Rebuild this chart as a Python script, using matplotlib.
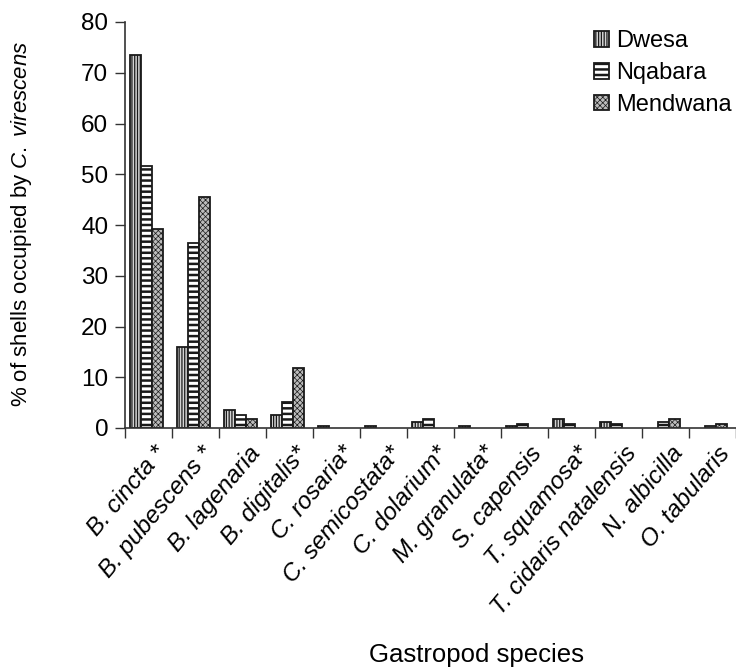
import matplotlib
matplotlib.use("Agg")
import matplotlib.pyplot as plt
import numpy as np
from matplotlib.patches import Patch

plt.rcParams['font.family'] = ['Liberation Sans', 'DejaVu Sans']
plt.rcParams['mathtext.fontset'] = 'custom'
plt.rcParams['mathtext.rm'] = 'Liberation Sans'
plt.rcParams['mathtext.it'] = 'Liberation Sans:italic'

species = ["B. cincta *", "B. pubescens *", "B. lagenaria", "B. digitalis*",
           "C. rosaria*", "C. semicostata*", "C. dolarium*", "M. granulata*",
           "S. capensis", "T. squamosa*", "T. cidaris natalensis", "N. albicilla",
           "O. tabularis"]
dwesa = [73.5, 15.9, 3.5, 2.6, 0.4, 0.4, 1.1, 0.4, 0.4, 1.8, 1.2, 0.0, 0.0]
nqabara = [51.7, 36.4, 2.6, 5.2, 0.0, 0.0, 1.8, 0.0, 0.8, 0.8, 0.8, 1.2, 0.4]
mendwana = [39.2, 45.6, 1.8, 11.8, 0.0, 0.0, 0.0, 0.0, 0.0, 0.0, 0.0, 1.8, 0.8]
series_names = ["Dwesa", "Nqabara", "Mendwana"]
yticks = [0, 10, 20, 30, 40, 50, 60, 70, 80]


def with_hatch_lw(artist, lw):
    orig = artist.draw

    def draw(renderer, _orig=orig, _lw=lw):
        with plt.rc_context({'hatch.linewidth': _lw}):
            if hasattr(artist, 'set_hatch_linewidth'):
                artist.set_hatch_linewidth(_lw)
            _orig(renderer)
    artist.draw = draw


fig = plt.figure(figsize=(7.36, 6.68), dpi=100)
ax = fig.add_axes([125/736, (668-428)/668, 1 - 125/736, (428-22)/668])

x = np.arange(len(species))
w = 0.235
c = -0.04
styles = [
    dict(facecolor='#d4d4d4', hatch='||||||', hlw=0.9),
    dict(facecolor='white', hatch='---', hlw=1.8),
    dict(facecolor='#bcbcbc', hatch='xxxxxx', hlw=0.5),
]
handles = []
for k, (vals, st) in enumerate(zip([dwesa, nqabara, mendwana], styles)):
    bars = ax.bar(x + c + (k - 1) * w, vals, width=w, facecolor=st['facecolor'],
                  edgecolor='#1a1a1a', linewidth=1.3, hatch=st['hatch'], zorder=2)
    for b in bars:
        with_hatch_lw(b, st['hlw'])
        if b.get_height() <= 0:
            b.set_visible(False)
    h = Patch(facecolor=st['facecolor'], edgecolor='#1a1a1a', linewidth=1.3,
              hatch=st['hatch'], label=series_names[k])
    handles.append(h)

ax.set_xlim(-0.5, len(species) - 0.5)
ax.set_ylim(0, 80)
ax.set_yticks(yticks)
ax.set_yticklabels([str(t) for t in yticks], fontsize=17.5)
ax.set_xticks(np.arange(len(species) + 1) - 0.5)
ax.set_xticklabels([])
ax.tick_params(axis='both', direction='out', length=7, width=1, color='#333333')
ax.tick_params(axis='y', pad=5)
ax.set_xticks(x + 0.1, minor=True)
ax.set_xticklabels(species, minor=True, rotation=50, ha='right', va='top',
                   rotation_mode='anchor', fontsize=17.5, fontstyle='italic')
ax.tick_params(axis='x', which='minor', length=0, pad=10)
for s in ['top', 'right']:
    ax.spines[s].set_visible(False)
for s in ['left', 'bottom']:
    ax.spines[s].set_linewidth(1.2)
    ax.spines[s].set_color('#333333')

ax.set_ylabel(r"% of shells occupied by $\it{C.\ virescens}$", fontsize=16, va='center')
ax.yaxis.set_label_coords(-0.170, 0.502)
ax.set_xlabel("Gastropod species", fontsize=18.5, va='center')
ax.xaxis.set_label_coords((476 - 125) / 611, -0.559)

leg = ax.legend(handles=handles, loc='upper left',
                bbox_to_anchor=((594-125)/611, 1.0 - 8/406),
                frameon=False, fontsize=17, handlelength=0.65, handleheight=0.65,
                handletextpad=0.3, labelspacing=0.42, borderaxespad=0, borderpad=0)
for p, st in zip(leg.get_patches(), styles):
    with_hatch_lw(p, st['hlw'])

fig.savefig("out.png", dpi=100)
